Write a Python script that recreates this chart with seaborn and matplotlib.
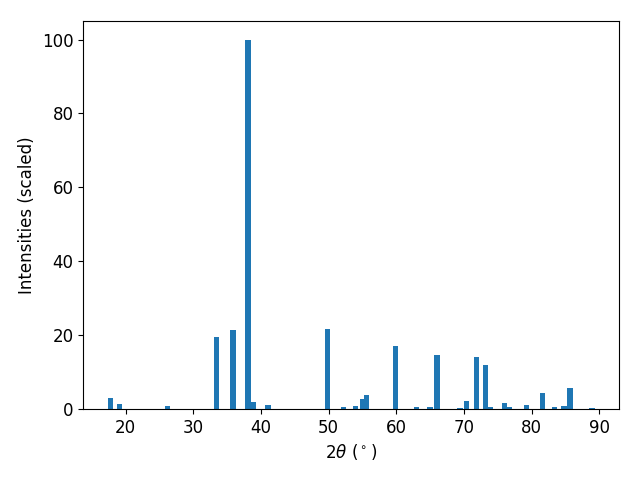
import matplotlib
matplotlib.use('Agg')
import matplotlib.pyplot as plt
import numpy as np
import seaborn as sns

# peak positions (2theta, degrees) and scaled intensities
two_theta = [17.7, 19.1, 26.2, 33.45, 35.87, 38.08, 38.9, 41.0,
             49.86, 52.2, 53.93, 54.97, 55.56, 59.84, 62.95, 64.95, 65.98,
             69.38, 70.41, 71.82, 73.22, 73.9, 76.03, 76.7, 79.28, 81.65,
             83.42, 84.8, 85.7, 88.9]
intensity = [3.0, 1.35, 0.8, 19.5, 21.3, 100.0, 2.0, 1.1,
             21.6, 0.6, 0.8, 2.7, 3.8, 17.1, 0.6, 0.6, 14.6,
             0.3, 2.2, 14.1, 11.9, 0.5, 1.6, 0.5, 1.1, 4.3,
             0.5, 0.8, 5.7, 0.3]

plt.rcParams['font.size'] = 12

fig, ax = plt.subplots(figsize=(6.4, 4.8), dpi=100)

# seaborn scales native widths by the smallest spacing between positions
bar_w = 0.8
min_gap = np.diff(np.sort(two_theta)).min()
sns.barplot(x=two_theta, y=intensity, native_scale=True, width=bar_w / min_gap,
            color='#1f77b4', saturation=1, errorbar=None, ax=ax)

ax.margins(x=0.05, y=0.05)
ax.autoscale_view()
ax.set_xlabel(r'2$\theta$ ($^\circ$)')
ax.set_ylabel('Intensities (scaled)')
fig.subplots_adjust(left=0.13, right=0.967, top=0.956, bottom=0.148)
fig.savefig('out.png', dpi=100)
